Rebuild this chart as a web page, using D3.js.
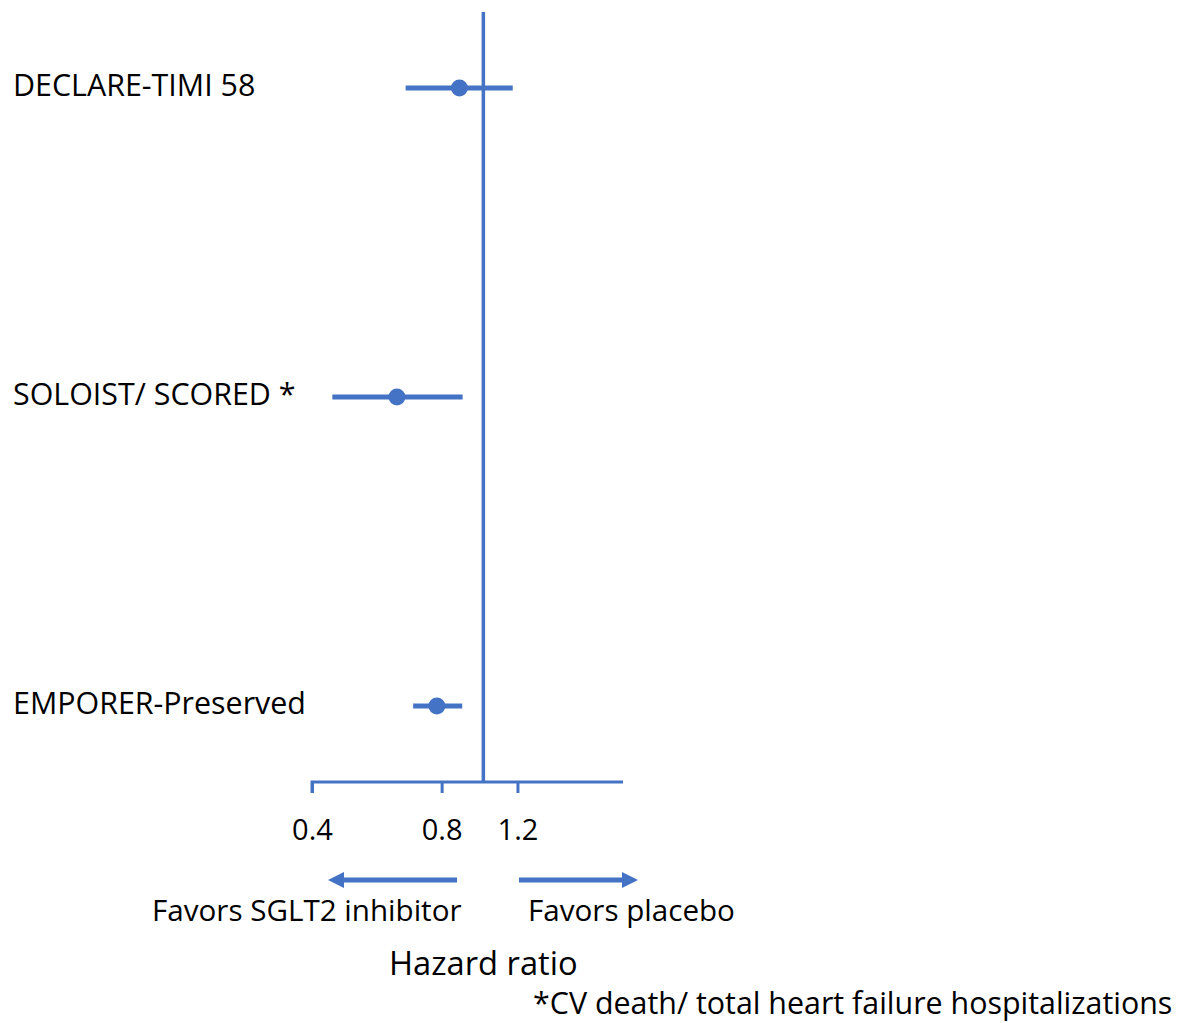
<!DOCTYPE html>
<html>
<head>
<meta charset="utf-8">
<script src="https://cdn.jsdelivr.net/npm/d3@7"></script>
<style>
  html, body { margin: 0; padding: 0; background: #fff; }
  svg { display: block; }
  text { font-family: "Open Sans", Lato, sans-serif; fill: #000; }
</style>
</head>
<body>
<svg id="chart" width="1186" height="1023"></svg>
<script>
const trials = ["DECLARE-TIMI 58", "SOLOIST/ SCORED *", "EMPORER-Preserved"];
const hazardRatio = [0.88, 0.63, 0.78];
const lowerCI = [0.66, 0.446, 0.687];
const upperCI = [1.17, 0.895, 0.893];
const tickValues = [0.4, 0.8, 1.2];
const tickLabels = ["0.4", "0.8", "1.2"];
const favorLeft = "Favors SGLT2 inhibitor";
const favorRight = "Favors placebo";
const axisTitle = "Hazard ratio";
const footnote = "*CV death/ total heart failure hospitalizations";

const blue = "#4472C4";
const svg = d3.select("#chart");

const x = d3.scaleLog().domain([0.4, 2.11]).range([312, 623]);
const y = d3.scalePoint().domain(trials).range([88, 706]);
const axisY = 782;

// reference line at HR = 1
svg.append("line")
  .attr("x1", x(1)).attr("x2", x(1))
  .attr("y1", 12).attr("y2", axisY)
  .attr("stroke", blue).attr("stroke-width", 3.5);

// axis
const axis = d3.axisBottom(x)
  .tickValues(tickValues)
  .tickFormat((d, i) => tickLabels[i])
  .tickSizeOuter(0)
  .tickSize(11)
  .tickPadding(26);
const gAxis = svg.append("g").attr("transform", `translate(0,${axisY})`).call(axis);
gAxis.select(".domain").attr("stroke", blue).attr("stroke-width", 3)
  .attr("d", `M${x(0.4)},11V0H${x(2.11)}`);
gAxis.selectAll(".tick line").attr("stroke", blue).attr("stroke-width", 3);
gAxis.selectAll(".tick text")
  .style("font-family", "'Open Sans', Lato, sans-serif")
  .attr("font-size", 29).attr("fill", "#000");

// trial rows
const rows = trials.map((t, i) => ({ t, hr: hazardRatio[i], lo: lowerCI[i], hi: upperCI[i] }));
svg.selectAll(".ci").data(rows).enter().append("line")
  .attr("x1", d => x(d.lo)).attr("x2", d => x(d.hi))
  .attr("y1", d => y(d.t)).attr("y2", d => y(d.t))
  .attr("stroke", blue).attr("stroke-width", 5);
svg.selectAll(".pt").data(rows).enter().append("circle")
  .attr("cx", d => x(d.hr)).attr("cy", d => y(d.t)).attr("r", 8.5)
  .attr("fill", blue);
svg.selectAll(".lbl").data(rows).enter().append("text")
  .attr("x", 13).attr("y", d => y(d.t) + 8)
  .attr("font-size", 30.4)
  .text(d => d.t);

// arrows
const defs = svg.append("defs");
defs.append("marker").attr("id", "ah")
  .attr("viewBox", "0 0 10 10").attr("refX", 0).attr("refY", 5)
  .attr("markerWidth", 3.2).attr("markerHeight", 3.4)
  .attr("markerUnits", "strokeWidth")
  .attr("orient", "auto")
  .append("path").attr("d", "M0,0L10,5L0,10Z").attr("fill", blue);
const arrowY = 880;
svg.append("line").attr("x1", 457).attr("x2", 344).attr("y1", arrowY).attr("y2", arrowY)
  .attr("stroke", blue).attr("stroke-width", 5).attr("marker-end", "url(#ah)");
svg.append("line").attr("x1", 519).attr("x2", 622).attr("y1", arrowY).attr("y2", arrowY)
  .attr("stroke", blue).attr("stroke-width", 5).attr("marker-end", "url(#ah)");

svg.append("text").attr("x", 152).attr("y", 921).attr("font-size", 29.6).text(favorLeft);
svg.append("text").attr("x", 528).attr("y", 921).attr("font-size", 29.6).text(favorRight);
svg.append("text").attr("x", 389).attr("y", 975).attr("font-size", 32.7).text(axisTitle);
svg.append("text").attr("x", 533).attr("y", 1014).attr("font-size", 30.4).text(footnote);
</script>
</body>
</html>
